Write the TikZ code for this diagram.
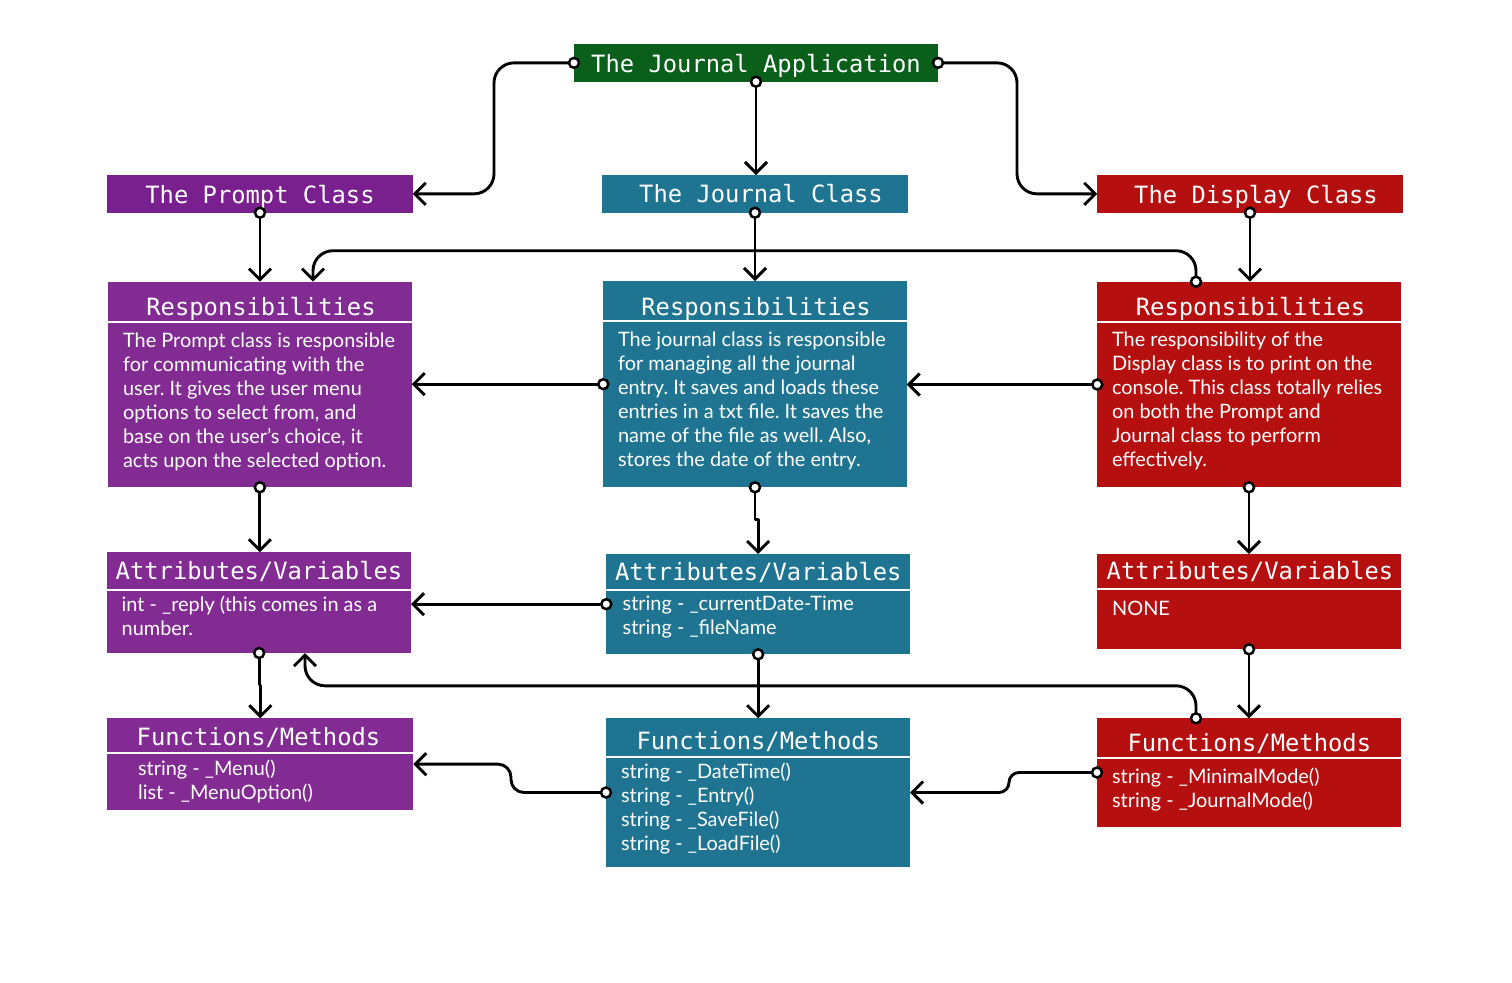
\documentclass[tikz,border=0pt]{standalone}
\usepackage{fontspec}
\newfontfamily\latofont{Lato}
\newfontfamily\monofont{DejaVu Sans Mono}
\usetikzlibrary{arrows.meta,fit,calc}
\definecolor{jgreen}{HTML}{0A5F1B}
\definecolor{purpT}{HTML}{7A1F8E}
\definecolor{purp}{HTML}{822C93}
\definecolor{teal}{HTML}{1F7591}
\definecolor{jred}{HTML}{B60F0F}
\newcommand{\fs}{\rule{0pt}{8pt}}
\frenchspacing
\begin{document}
\begin{tikzpicture}[x=0.5pt,y=-0.5pt,
  box/.style={inner sep=0pt, outer sep=0pt, draw=none},
  head/.style={font=\monofont\fontsize{11.9}{14}\selectfont, text=white, inner sep=0pt, anchor=base},
  body/.style={font=\latofont\fontsize{9.95}{12}\selectfont\frenchspacing, text=white, inner sep=0pt, anchor=north west, align=left},
  sepline/.style={draw=white, line width=1pt},
  conn/.style={draw=black, line width=1.45pt, line cap=round, line join=round, -{Straight Barb[length=5.5pt,width=11pt]}},
  dotc/.style={circle, draw=black, fill=white, line width=1.25pt, minimum size=5pt, inner sep=0pt}]
\useasboundingbox[fill=white] (0,0) rectangle (1512,982);

% boxes
\node[box, fill=jgreen, fit={(574,44)(938,81.7)}] (app) {};
\node[box, fill=purpT, fit={(107.3,175)(412.7,212.7)}] (pc) {};
\node[box, fill=teal, fit={(602,175)(908,212.7)}] (jc) {};
\node[box, fill=jred, fit={(1097.3,175)(1402.7,212.7)}] (dc) {};
\node[box, fill=purp, fit={(108,281.7)(411.7,487.3)}] (rp) {};
\node[box, fill=teal, fit={(603.3,281)(906.7,487.3)}] (rj) {};
\node[box, fill=jred, fit={(1097.3,281.7)(1400.7,487.3)}] (rd) {};
\node[box, fill=purp, fit={(107.3,552.3)(411,653)}] (ap) {};
\node[box, fill=teal, fit={(606.3,554)(910,654.3)}] (aj) {};
\node[box, fill=jred, fit={(1097,554)(1401,649.3)}] (ad) {};
\node[box, fill=purp, fit={(107.3,718.3)(413.3,810)}] (fp) {};
\node[box, fill=teal, fit={(606,718.3)(910,866.7)}] (fj) {};
\node[box, fill=jred, fit={(1097,718.3)(1401,826.7)}] (fd) {};

% headings
\node[head] (apph) at (756,72.3) {The Journal Application};
\node[head] (pch) at (260,203.3) {The Prompt Class};
\node[head] (jch) at (761,202.7) {The Journal Class};
\node[head] (dch) at (1256,203) {The Display Class};
\node[head] (rph) at (261,315.5) {Responsibilities};
\node[head] (rjh) at (756,315.5) {Responsibilities};
\node[head] (rdh) at (1250.5,315.5) {Responsibilities};
\node[head] (aph) at (259,579) {Attributes/Variables};
\node[head] (ajh) at (758.3,580.5) {Attributes/Variables};
\node[head] (adh) at (1250,579) {Attributes/Variables};
\node[head] (fph) at (258.5,745.7) {Functions/Methods};
\node[head] (fjh) at (758.3,749) {Functions/Methods};
\node[head] (fdh) at (1249.3,751.5) {Functions/Methods};

% separators
\draw[sepline] (rp.west |- 0,321.5) -- (rp.east |- 0,321.5);
\draw[sepline] (rj.west |- 0,320.7) -- (rj.east |- 0,320.7);
\draw[sepline] (rd.west |- 0,321.5) -- (rd.east |- 0,321.5);
\draw[sepline] (ap.west |- 0,590) -- (ap.east |- 0,590);
\draw[sepline] (aj.west |- 0,590) -- (aj.east |- 0,590);
\draw[sepline] (ad.west |- 0,589.3) -- (ad.east |- 0,589.3);
\draw[sepline] (fp.west |- 0,752.7) -- (fp.east |- 0,752.7);
\draw[sepline] (fj.west |- 0,757.3) -- (fj.east |- 0,757.3);
\draw[sepline] (fd.west |- 0,758.3) -- (fd.east |- 0,758.3);

% body texts
\node[body] (rpt) at (122.7,330.7) {\fs The Prompt class is responsible\\for communicating with the\\user. It gives the user menu\\options to select from, and\\base on the user’s choice, it\\acts upon the selected option.};
\node[body] (rjt) at (617.7,329.7) {\fs The journal class is responsible\\for managing all the journal\\entry. It saves and loads these\\entries in a txt file. It saves the\\name of the file as well. Also,\\stores the date of the entry.};
\node[body] (rdt) at (1111.7,329.7) {\fs The responsibility of the\\Display class is to print on the\\console. This class totally relies\\on both the Prompt and\\Journal class to perform\\effectively.};
\node[body] (apt) at (121.3,594.7) {\fs int - \_reply (this comes in as a\\number.};
\node[body] (ajt) at (622.3,594) {\fs string - \_currentDate-Time\\string - \_fileName};
\node[body] (adt) at (1111.7,599) {\fs NONE};
\node[body] (fpt) at (137.7,759) {\fs string - \_Menu()\\list - \_MenuOption()};
\node[body] (fjt) at (620.7,762.3) {\fs string - \_DateTime()\\string - \_Entry()\\string - \_SaveFile()\\string - \_LoadFile()};
\node[body] (fdt) at (1111.7,767.3) {\fs string - \_MinimalMode()\\string - \_JournalMode()};

% connector endpoints
\coordinate (c7s) at (1196,281.7);
\coordinate (c7e) at (313,281.7);
\coordinate (c17s) at (1196,718.3);
\coordinate (c17e) at (305,653);

% connectors
\draw[conn, rounded corners=10pt] (app.west) -- ++(-80,0) |- (pc.east);
\draw[conn, rounded corners=10pt] (app.east) -- ++(79,0) |- (dc.west);
\draw[conn] (app.south) -- (app.south |- jc.north);
\draw[conn] (pc.south) -- (pc.south |- rp.north);
\draw[conn] (jc.south) -- (jc.south |- rj.north);
\draw[conn] (dc.south) -- (dc.south |- rd.north);
\draw[conn, rounded corners=10pt] (c7s) -- ++(0,-31) -| (c7e);
\draw[conn] (rj.west) -- (rj.west -| rp.east);
\draw[conn] (rd.west) -- (rd.west -| rj.east);
\draw[conn] (rp.south) -- (rp.south |- ap.north);
\draw[conn] (rj.south) -- ++(0,32) -| (aj.north);
\draw[conn] (rd.south) -- (rd.south |- ad.north);
\draw[conn] (aj.west) -- (aj.west -| ap.east);
\draw[conn] (ap.south) -- ++(0,32) -| (fp.north);
\draw[conn] (aj.south) -- (aj.south |- fj.north);
\draw[conn] (ad.south) -- (ad.south |- fd.north);
\draw[conn, rounded corners=10pt] (c17s) -- ++(0,-32.5) -| (c17e);
\draw[conn, rounded corners=6.5pt] (fj.west) -- ++(-95,0) |- (fp.east);
\draw[conn, rounded corners=5pt] (fd.west) -- ++(-88,0) |- (fj.east);

% tail circles
\node[dotc] (d1) at (app.west) {};
\node[dotc] (d2) at (app.east) {};
\node[dotc] (d3) at (app.south) {};
\node[dotc] (d4) at (pc.south) {};
\node[dotc] (d5) at (jc.south) {};
\node[dotc] (d6) at (dc.south) {};
\node[dotc] (d7) at (c7s) {};
\node[dotc] (d8) at (rj.west) {};
\node[dotc] (d9) at (rd.west) {};
\node[dotc] (d10) at (rp.south) {};
\node[dotc] (d11) at (rj.south) {};
\node[dotc] (d12) at (rd.south) {};
\node[dotc] (d13) at (aj.west) {};
\node[dotc] (d14) at (ap.south) {};
\node[dotc] (d15) at (aj.south) {};
\node[dotc] (d16) at (ad.south) {};
\node[dotc] (d17) at (c17s) {};
\node[dotc] (d18) at (fj.west) {};
\node[dotc] (d19) at (fd.west) {};
\end{tikzpicture}
\end{document}
